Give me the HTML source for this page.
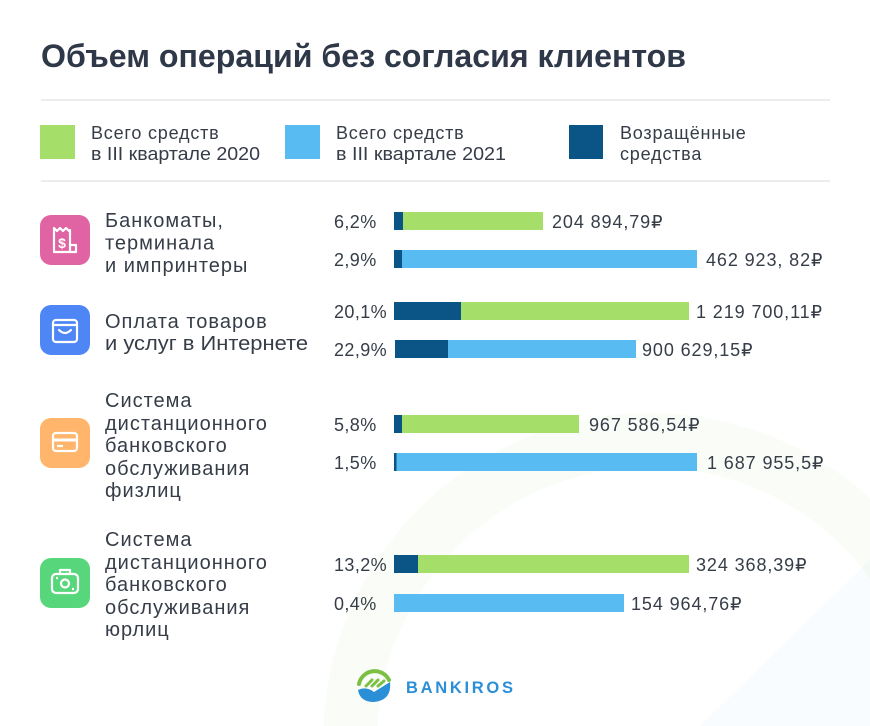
<!DOCTYPE html>
<html><head><meta charset="utf-8"><style>
html,body{margin:0;padding:0;background:#fff;width:870px;height:726px;overflow:hidden;}
svg{display:block;}
text{font-family:"Liberation Sans","DejaVu Sans",sans-serif;fill:#363d48;}
</style></head><body>
<svg width="870" height="726" viewBox="0 0 870 726" xmlns="http://www.w3.org/2000/svg" overflow="hidden">
<rect width="870" height="726" fill="#fff"/>
<!-- watermark -->
<path d="M323.3 726 A327 327 0 0 1 870 498.1 L870 578.4 A273 273 0 0 0 377.4 726 Z" fill="#a5df6a" fill-opacity="0.055"/>
<path d="M700 726 L870 560 L870 726 Z" fill="#58bcf2" fill-opacity="0.04"/>

<!-- title -->
<text x="41" y="67" font-size="32" font-weight="bold" style="fill:#2f3848" textLength="645" lengthAdjust="spacingAndGlyphs">Объем операций без согласия клиентов</text>
<rect x="41" y="99" width="789" height="2" fill="#ebedef"/>
<rect x="41" y="180" width="789" height="2" fill="#ebedef"/>

<!-- legend -->
<g font-size="18" letter-spacing="0.8">
<rect x="40" y="125" width="35" height="34" fill="#a5df6a"/>
<text x="91" y="139">Всего средств</text>
<text x="91" y="160" textLength="169" lengthAdjust="spacingAndGlyphs" letter-spacing="0">в III квартале 2020</text>
<rect x="285" y="125" width="35" height="34" fill="#58bcf2"/>
<text x="336" y="139">Всего средств</text>
<text x="336" y="160" textLength="170" lengthAdjust="spacingAndGlyphs" letter-spacing="0">в III квартале 2021</text>
<rect x="569" y="125" width="34" height="34" fill="#0b5486"/>
<text x="620" y="139">Возращённые</text>
<text x="620" y="160">средства</text>
</g>

<!-- icons -->
<rect x="40" y="215" width="50" height="50" rx="11" fill="#e063a3"/>
<g fill="none" stroke="#fff" stroke-width="2.2" stroke-linejoin="round">
<path d="M54 228 L57 231 L60 228 L63 231 L66 228 L69 231 L70 230 L70 252 L54 252 Z"/>
<path d="M70 245 L76 245 L76 252 L70 252"/>
</g>
<text x="62" y="248" font-size="14" font-weight="bold" text-anchor="middle" style="fill:#fff">$</text>

<rect x="40" y="305" width="50" height="50" rx="11" fill="#4f86f6"/>
<g fill="none" stroke="#fff" stroke-width="2.2" stroke-linejoin="round" stroke-linecap="round">
<rect x="53" y="320" width="24" height="22" rx="3"/>
<path d="M53 325 L77 325"/>
<path d="M59 330 Q65 336 71 330"/>
</g>

<rect x="40" y="418" width="50" height="50" rx="11" fill="#ffb56b"/>
<g fill="none" stroke="#fff" stroke-width="2.2">
<rect x="53" y="433" width="24" height="18" rx="3"/>
<path d="M53 440 L77 440" stroke-width="3"/>
<path d="M57 446 L63 446"/>
</g>

<rect x="40" y="558" width="50" height="50" rx="11" fill="#58d67c"/>
<g fill="none" stroke="#fff" stroke-width="2.2" stroke-linejoin="round">
<path d="M60 574 L60 570 L70 570 L70 574"/>
<rect x="52" y="574" width="26" height="19" rx="4"/>
<circle cx="65" cy="583.5" r="4"/>
<path d="M56 578 L58 578 M72 589 L74 589"/>
</g>

<!-- category labels -->
<g font-size="20" letter-spacing="1">
<text x="105" y="227">Банкоматы,</text>
<text x="105" y="249.5">терминала</text>
<text x="105" y="272">и импринтеры</text>

<text x="105" y="328">Оплата товаров</text>
<text x="105" y="350" textLength="203" lengthAdjust="spacingAndGlyphs" letter-spacing="0">и услуг в Интернете</text>

<text x="105" y="407">Система</text>
<text x="105" y="430">дистанционного</text>
<text x="105" y="452">банковского</text>
<text x="105" y="475">обслуживания</text>
<text x="105" y="497">физлиц</text>

<text x="105" y="546">Система</text>
<text x="105" y="569">дистанционного</text>
<text x="105" y="591">банковского</text>
<text x="105" y="614">обслуживания</text>
<text x="105" y="636">юрлиц</text>
</g>

<!-- bars -->
<rect x="394" y="212" width="149" height="18" fill="#a5df6a"/>
<rect x="394" y="212" width="9" height="18" fill="#0b5486"/>
<rect x="394" y="250" width="303" height="18" fill="#58bcf2"/>
<rect x="394" y="250" width="8" height="18" fill="#0b5486"/>

<rect x="394" y="302" width="295" height="18" fill="#a5df6a"/>
<rect x="394" y="302" width="67" height="18" fill="#0b5486"/>
<rect x="395" y="340" width="241" height="18" fill="#58bcf2"/>
<rect x="395" y="340" width="53" height="18" fill="#0b5486"/>

<rect x="394" y="415" width="185" height="18" fill="#a5df6a"/>
<rect x="394" y="415" width="8" height="18" fill="#0b5486"/>
<rect x="394" y="453" width="303" height="18" fill="#58bcf2"/>
<rect x="394" y="453" width="2.5" height="18" fill="#0b5486"/>

<rect x="394" y="555" width="295" height="18" fill="#a5df6a"/>
<rect x="394" y="555" width="24" height="18" fill="#0b5486"/>
<rect x="394" y="594" width="230" height="18" fill="#58bcf2"/>

<!-- percents & values -->
<g font-size="18">
<g letter-spacing="0.4">
<text x="334" y="228">6,2%</text>
<text x="334" y="266">2,9%</text>
<text x="334" y="318">20,1%</text>
<text x="334" y="356">22,9%</text>
<text x="334" y="431">5,8%</text>
<text x="334" y="469">1,5%</text>
<text x="334" y="571">13,2%</text>
<text x="334" y="610">0,4%</text>
</g>
<g letter-spacing="0.9">
<text x="552" y="228">204 894,79₽</text>
<text x="706" y="266">462 923, 82₽</text>
<text x="696" y="318">1 219 700,11₽</text>
<text x="642" y="356">900 629,15₽</text>
<text x="589" y="431">967 586,54₽</text>
<text x="707" y="469">1 687 955,5₽</text>
<text x="696" y="571">324 368,39₽</text>
<text x="631" y="610">154 964,76₽</text>
</g>
</g>

<!-- logo -->
<path d="M359 684 A16 16 0 0 1 389 680" fill="none" stroke="#7cc043" stroke-width="4" stroke-linecap="round"/>
<path d="M366 686 L372 680 M372 686 L378 680 M378 686 L384 681" stroke="#7cc043" stroke-width="3" stroke-linecap="round"/>
<path d="M358 690 Q366 686 374 692 L390 682 Q392 700 374 702 Q360 702 358 690 Z" fill="#2b8fd8"/>
<text x="406" y="693" font-size="16.5" font-weight="bold" style="fill:#2b8fd8" textLength="107" lengthAdjust="spacing">BANKIROS</text>
</svg>
</body></html>
